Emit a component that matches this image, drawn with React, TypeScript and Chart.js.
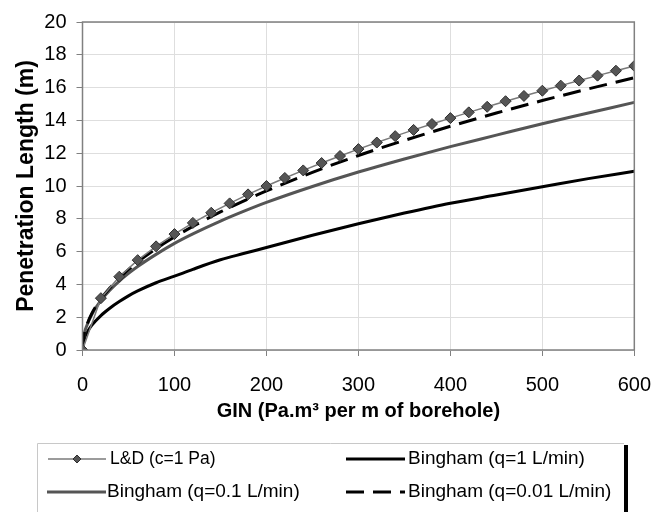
import React, { useEffect, useRef } from "react";
import { Chart, registerables } from "chart.js";

Chart.register(...registerables);

const ldX = [0, 20, 40, 60, 80, 100, 120, 140, 160, 180, 200, 220, 240, 260, 280, 300, 320, 340, 360, 380, 400, 420, 440, 460, 480, 500, 520, 540, 560, 580, 600];
const ldY = [0, 3.16, 4.47, 5.48, 6.32, 7.07, 7.75, 8.37, 8.94, 9.49, 10.0, 10.49, 10.95, 11.4, 11.83, 12.25, 12.65, 13.04, 13.42, 13.78, 14.14, 14.49, 14.83, 15.17, 15.49, 15.81, 16.12, 16.43, 16.73, 17.03, 17.32];

const binghamX = [0, 2, 5, 10, 20, 30, 40, 50, 60, 80, 100, 120, 150, 175, 200, 250, 300, 350, 400, 450, 500, 550, 600];
const bingham1 = [0, 0.68, 1.07, 1.5, 2.1, 2.56, 2.95, 3.3, 3.6, 4.1, 4.5, 4.92, 5.5, 5.88, 6.25, 7.0, 7.7, 8.35, 8.95, 9.45, 9.95, 10.45, 10.9];
const bingham01 = [0, 0.98, 1.53, 2.15, 3.02, 3.66, 4.2, 4.67, 5.09, 5.83, 6.5, 7.08, 7.86, 8.45, 9.0, 9.97, 10.85, 11.65, 12.4, 13.1, 13.8, 14.45, 15.1];
const bingham001 = [0, 0.99, 1.56, 2.21, 3.11, 3.8, 4.39, 4.9, 5.37, 6.18, 6.89, 7.54, 8.42, 9.08, 9.7, 10.83, 11.86, 12.78, 13.64, 14.45, 15.21, 15.92, 16.6];

const labels = ["L&D (c=1 Pa)", "Bingham (q=1 L/min)", "Bingham (q=0.1 L/min)", "Bingham (q=0.01 L/min)"];
const xTitle = "GIN (Pa.m³ per m of borehole)";
const yTitle = "Penetration Length (m)";

const FONT = "'Liberation Sans', Arial, sans-serif";

const pts = (xs: number[], ys: number[]) => xs.map((x, i) => ({ x, y: ys[i] }));

const boxPlugin = {
  id: "boxPlugin",
  afterDraw(chart: any) {
    const { ctx, chartArea } = chart;
    ctx.save();
    ctx.strokeStyle = "#808080";
    ctx.lineWidth = 1.5;
    ctx.strokeRect(chartArea.left, chartArea.top, chartArea.right - chartArea.left, chartArea.bottom - chartArea.top);
    ctx.restore();

    // legend
    const ds = chart.data.datasets;
    ctx.save();
    ctx.strokeStyle = "#c8c8c8";
    ctx.lineWidth = 1;
    ctx.beginPath();
    ctx.moveTo(37.5, 520);
    ctx.lineTo(37.5, 443.5);
    ctx.lineTo(624, 443.5);
    ctx.stroke();
    ctx.fillStyle = "#000";
    ctx.fillRect(624, 445, 4, 70);

    const items = [
      { i: 0, x0: 48, x1: 106, tx: 110, y: 459, size: 17.5 },
      { i: 1, x0: 346, x1: 405, tx: 408, y: 459, size: 19 },
      { i: 2, x0: 47, x1: 106, tx: 107, y: 492, size: 19 },
      { i: 3, x0: 346, x1: 405, tx: 408, y: 492, size: 19 },
    ];
    items.forEach((it) => {
      const d = ds[it.i];
      ctx.save();
      ctx.strokeStyle = d.borderColor;
      ctx.lineWidth = d.borderWidth;
      ctx.setLineDash(d.borderDash || []);
      ctx.beginPath();
      ctx.moveTo(it.x0, it.y);
      ctx.lineTo(it.x1, it.y);
      ctx.stroke();
      ctx.restore();
      if (it.i === 0) {
        const cx = (it.x0 + it.x1) / 2;
        const r = 4;
        ctx.save();
        ctx.fillStyle = d.pointBackgroundColor;
        ctx.strokeStyle = d.pointBorderColor;
        ctx.lineWidth = 1;
        ctx.beginPath();
        ctx.moveTo(cx, it.y - r);
        ctx.lineTo(cx + r, it.y);
        ctx.lineTo(cx, it.y + r);
        ctx.lineTo(cx - r, it.y);
        ctx.closePath();
        ctx.fill();
        ctx.stroke();
        ctx.restore();
      }
      ctx.fillStyle = "#000";
      ctx.font = `${it.size}px ${FONT}`;
      ctx.textBaseline = "middle";
      ctx.textAlign = "left";
      ctx.fillText(labels[it.i], it.tx, it.y);
    });
    ctx.restore();
  },
};

export default function App() {
  const ref = useRef<HTMLCanvasElement>(null);
  useEffect(() => {
    document.body.style.margin = "0";
    const canvas = ref.current!;
    const chart = new Chart(canvas, {
      type: "line",
      data: {
        datasets: [
          {
            label: labels[0],
            data: pts(ldX, ldY),
            borderColor: "#7a7a7a",
            borderWidth: 1.5,
            pointStyle: "rectRot",
            pointRadius: 5.5,
            pointBackgroundColor: "#555555",
            pointBorderColor: "#2e2e2e",
            pointBorderWidth: 1,
            tension: 0,
            order: 0,
          },
          {
            label: labels[1],
            data: pts(binghamX, bingham1),
            borderColor: "#000000",
            borderWidth: 3,
            pointRadius: 0,
            cubicInterpolationMode: "monotone",
            order: 3,
          },
          {
            label: labels[2],
            data: pts(binghamX, bingham01),
            borderColor: "#555555",
            borderWidth: 3,
            pointRadius: 0,
            cubicInterpolationMode: "monotone",
            order: 2,
          },
          {
            label: labels[3],
            data: pts(binghamX, bingham001),
            borderColor: "#000000",
            borderWidth: 3,
            borderDash: [18, 9],
            pointRadius: 0,
            cubicInterpolationMode: "monotone",
            order: 1,
          },
        ],
      },
      options: {
        animation: false,
        responsive: false,
        maintainAspectRatio: false,
        layout: { padding: { left: 0, top: 21, right: 31, bottom: 89 } },
        plugins: { legend: { display: false }, tooltip: { enabled: false } },
        scales: {
          x: {
            type: "linear",
            min: 0,
            max: 600,
            ticks: { stepSize: 100, color: "#000", font: { family: FONT, size: 20 }, padding: 17, maxRotation: 0 },
            grid: { color: "#dedede", tickColor: "#808080", tickLength: 6, drawTicks: true },
            border: { display: false },
            title: { display: true, text: xTitle, color: "#000", font: { family: FONT, size: 20, weight: "bold" }, padding: { top: 0, bottom: 0 } },
            afterFit: (s: any) => { s.height = 73; },
          },
          y: {
            min: 0,
            max: 20,
            ticks: { stepSize: 2, color: "#000", font: { family: FONT, size: 20 }, padding: 10 },
            grid: { color: "#dedede", tickColor: "#808080", tickLength: 6 },
            border: { display: false },
            title: { display: true, text: yTitle, color: "#000", font: { family: FONT, size: 23, weight: "bold" }, padding: { top: 12.5, bottom: 0 } },
            afterFit: (s: any) => { s.width = 82.5; },
          },
        },
      },
      plugins: [boxPlugin],
    });
    return () => chart.destroy();
  }, []);
  return <canvas ref={ref} width={668} height={512} style={{ display: "block", width: 668, height: 512 }} />;
}
